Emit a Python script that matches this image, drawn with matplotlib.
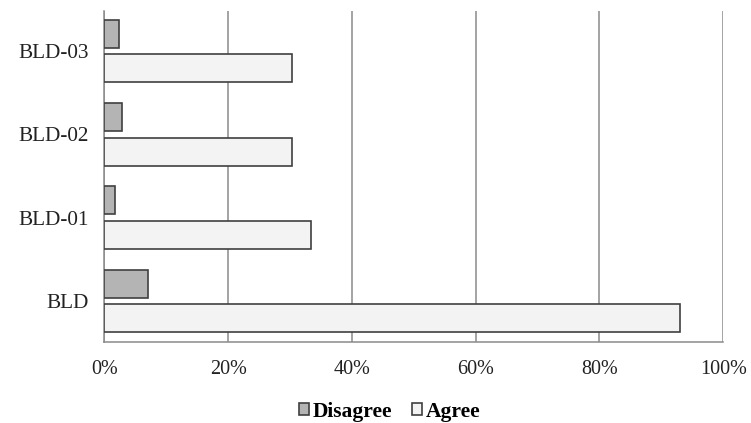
import matplotlib.pyplot as plt
import numpy as np

# Data (percent of respondents)
categories = ["BLD", "BLD-01", "BLD-02", "BLD-03"]
disagree = [7.0, 1.7, 2.9, 2.3]
agree = [93.0, 33.4, 30.3, 30.3]
x_ticks = [0, 20, 40, 60, 80, 100]
x_tick_labels = ["0%", "20%", "40%", "60%", "80%", "100%"]

plt.rcParams['font.family'] = ['Liberation Serif', 'DejaVu Serif']

fig = plt.figure(figsize=(7.51, 4.23), dpi=100)
ax = fig.add_axes([0.139, 0.192, 0.824, 0.782])

y = np.arange(len(categories))
height = 0.336
offset = 0.207
edge = '#404040'

ax.barh(y + offset, disagree, height=height, color='#b4b4b4',
        edgecolor=edge, linewidth=1.2, label='Disagree', zorder=3)
ax.barh(y - offset, agree, height=height, color='#f3f3f3',
        edgecolor=edge, linewidth=1.2, label='Agree', zorder=3)

# axes and grid
ax.set_xlim(0, 100)
ax.set_ylim(-0.49, 3.48)
ax.set_xticks(x_ticks)
ax.set_xticklabels(x_tick_labels)
ax.set_yticks(y)
ax.set_yticklabels(categories)
ax.tick_params(axis='both', length=0, colors='#222222')
ax.tick_params(axis='x', pad=13, labelsize=14.5)
ax.tick_params(axis='y', pad=11, labelsize=15.3)
ax.grid(axis='x', color='#8a8a8a', linewidth=1.1, zorder=0)

for side in ['top', 'right']:
    ax.spines[side].set_visible(False)
for side in ['left', 'bottom']:
    ax.spines[side].set_color('#8a8a8a')
    ax.spines[side].set_linewidth(1.1)

# legend under the chart
fig.legend(loc='center', bbox_to_anchor=(0.519, 0.027), ncol=2,
           frameon=False, handlelength=0.45, handleheight=0.45,
           handletextpad=0.2, columnspacing=0.9,
           prop={'weight': 'bold', 'size': 15.5})

plt.savefig('out.png', dpi=100)
plt.close()
